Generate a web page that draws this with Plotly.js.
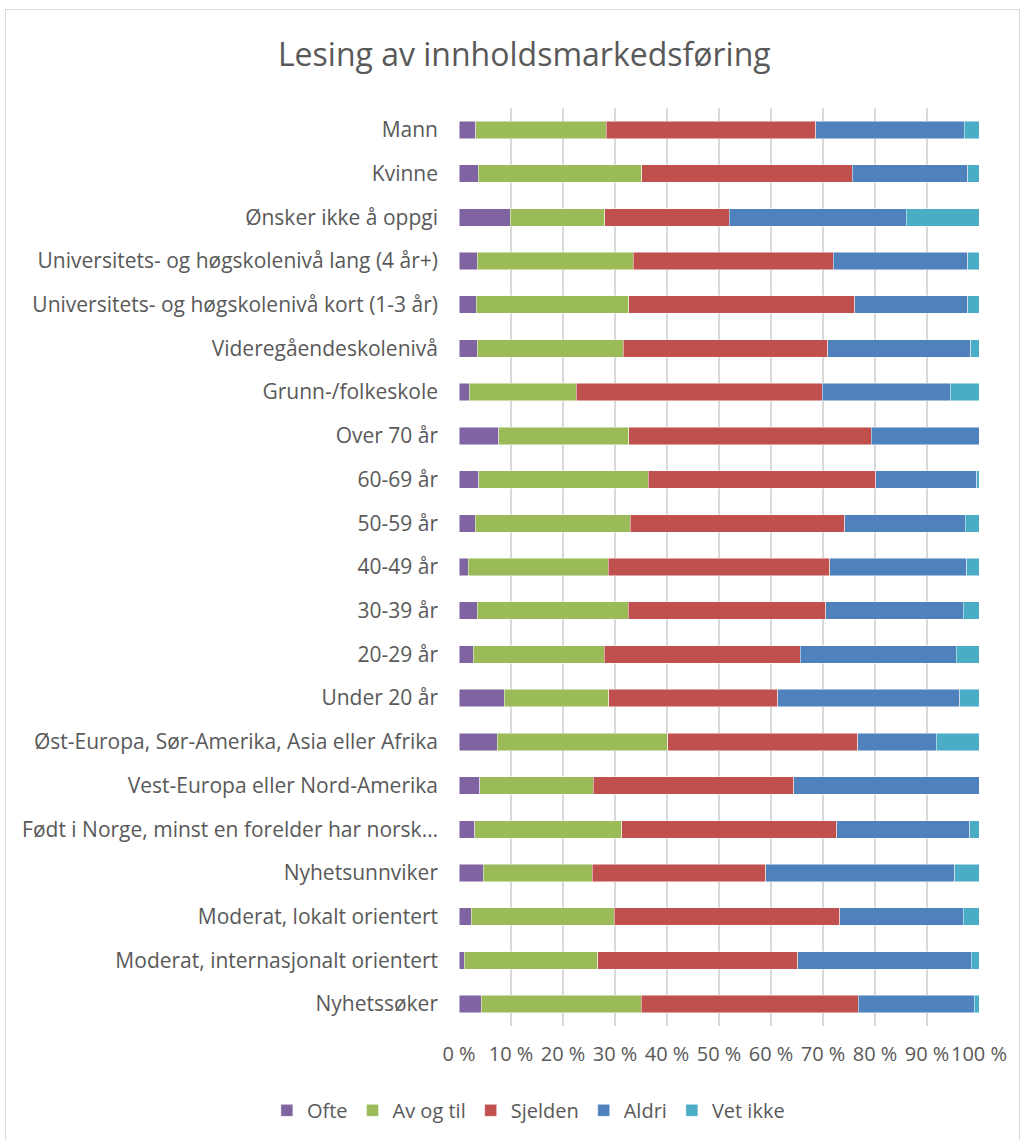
<!DOCTYPE html>
<html>
<head>
<meta charset="utf-8">
<script src="https://cdn.plot.ly/plotly-3.0.1.min.js"></script>
<style>
  html, body { margin: 0; padding: 0; background: #fff; }
  #chart { width: 1024px; height: 1140px; }
  #frame { position: absolute; left: 5px; top: 9px; width: 1013px; height: 1140px; border: 1px solid #d9d9d9; pointer-events: none; }
</style>
</head>
<body>
<div id="chart"></div>
<div id="frame"></div>
<script>
const categories = [
  "Mann",
  "Kvinne",
  "Ønsker ikke å oppgi",
  "Universitets- og høgskolenivå lang (4 år+)",
  "Universitets- og høgskolenivå kort (1-3 år)",
  "Videregåendeskolenivå",
  "Grunn-/folkeskole",
  "Over 70 år",
  "60-69 år",
  "50-59 år",
  "40-49 år",
  "30-39 år",
  "20-29 år",
  "Under 20 år",
  "Øst-Europa, Sør-Amerika, Asia eller Afrika",
  "Vest-Europa eller Nord-Amerika",
  "Født i Norge, minst en forelder har norsk…",
  "Nyhetsunnviker",
  "Moderat, lokalt orientert",
  "Moderat, internasjonalt orientert",
  "Nyhetssøker"
];

const ofte     = [3.2, 3.7, 9.9, 3.5, 3.3, 3.5, 2.0, 7.6, 3.8, 3.1, 1.8, 3.5, 2.7, 8.7, 7.4, 4.0, 3.0, 4.7, 2.4, 1.0, 4.3];
const avOgTil  = [25.1, 31.4, 18.1, 30.0, 29.3, 28.1, 20.5, 25.0, 32.6, 29.8, 26.9, 29.0, 25.2, 20.1, 32.7, 21.8, 28.3, 20.9, 27.5, 25.7, 30.7];
const sjelden  = [40.3, 40.5, 24.0, 38.5, 43.5, 39.3, 47.4, 46.7, 43.7, 41.3, 42.6, 38.0, 37.7, 32.5, 36.6, 38.6, 41.3, 33.4, 43.3, 38.4, 41.8];
const aldri    = [28.6, 22.2, 34.0, 25.8, 21.7, 27.5, 24.6, 20.7, 19.5, 23.2, 26.3, 26.5, 30.0, 35.0, 15.1, 35.6, 25.6, 36.3, 23.8, 33.4, 22.3];
const vetIkke  = [2.8, 2.2, 14.0, 2.2, 2.2, 1.6, 5.5, 0.0, 0.4, 2.6, 2.4, 3.0, 4.4, 3.7, 8.2, 0.0, 1.8, 4.7, 3.0, 1.5, 0.9];

const seriesNames = ["Ofte", "Av og til", "Sjelden", "Aldri", "Vet ikke"];
const seriesValues = [ofte, avOgTil, sjelden, aldri, vetIkke];
const seriesColors = ["#8064a2", "#9bbb59", "#c0504d", "#4f81bd", "#4bacc6"];

const tickVals = [0, 10, 20, 30, 40, 50, 60, 70, 80, 90, 100];
const tickLabels = ["0 %", "10 %", "20 %", "30 %", "40 %", "50 %", "60 %", "70 %", "80 %", "90 %", "100 %"];

const traces = seriesNames.map((name, i) => ({
  type: "bar",
  orientation: "h",
  name: name,
  y: categories,
  x: seriesValues[i],
  marker: { color: seriesColors[i], line: { color: "rgba(255,255,255,0.6)", width: 0.8 } },
  hoverinfo: "x+y+name"
}));

const textColor = "#595959";
const layout = {
  width: 1024,
  height: 1140,
  margin: { l: 459, r: 45, t: 108, b: 114, pad: 0, autoexpand: false },
  paper_bgcolor: "#ffffff",
  plot_bgcolor: "#ffffff",
  font: { family: "Open Sans, sans-serif", size: 21, color: textColor },
  title: {
    text: "Lesing av innholdsmarkedsføring",
    font: { family: "Open Sans, sans-serif", size: 32, color: textColor },
    x: 0.512, xref: "container", xanchor: "center",
    y: 0.952, yref: "container", yanchor: "middle"
  },
  barmode: "stack",
  bargap: 0.6,
  showlegend: true,
  legend: {
    orientation: "h",
    xref: "container", yref: "container",
    x: 0.516, xanchor: "center",
    y: 0.026, yanchor: "middle",
    font: { size: 20, color: textColor },
    traceorder: "normal",
    itemwidth: 30
  },
  xaxis: {
    range: [0, 100],
    tickvals: tickVals,
    ticktext: tickLabels,
    tickangle: 0,
    automargin: false,
    showgrid: true,
    gridcolor: "#d9d9d9",
    gridwidth: 1.5,
    zeroline: false,
    showline: false,
    ticks: "",
    ticklabelstandoff: 14,
    tickfont: { size: 20, color: textColor },
    fixedrange: true
  },
  yaxis: {
    type: "category",
    autorange: "reversed",
    automargin: false,
    showgrid: false,
    zeroline: false,
    showline: false,
    ticks: "",
    ticklabelstandoff: 20,
    tickfont: { size: 21, color: textColor },
    fixedrange: true
  }
};

Plotly.newPlot("chart", traces, layout, { displayModeBar: false, staticPlot: true });
</script>
</body>
</html>
